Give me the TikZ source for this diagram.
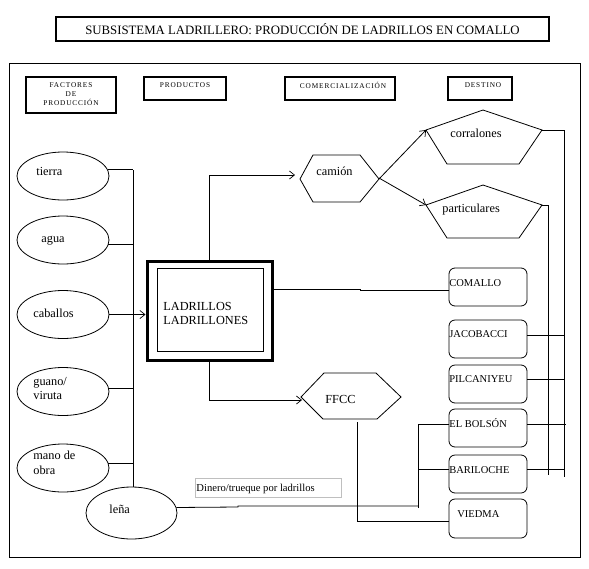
\documentclass[tikz,border=0pt]{standalone}
\usepackage{fontspec}
\setmainfont{Liberation Serif}
\newfontfamily\hdrfont[LetterSpace=12]{Liberation Serif}
\usetikzlibrary{shapes.geometric,arrows.meta}
\begin{document}
\begin{tikzpicture}[x=1pt,y=-1pt,line width=0.8pt,
  ell/.style={draw,ellipse,minimum width=92pt,minimum height=48pt,inner sep=0pt},
  lbl/.style={anchor=base west,inner sep=0pt,font=\fontsize{12.3}{14}\selectfont},
  hdr/.style={draw,line width=2pt,inner sep=0pt},
  hdrtxt/.style={inner sep=0pt,align=center,font=\hdrfont\fontsize{7.3}{9}\selectfont},
  dest/.style={draw,rounded corners=6pt,minimum width=78pt,minimum height=38pt,inner sep=0pt},
  dlbl/.style={anchor=base west,inner sep=0pt,font=\fontsize{10.5}{12}\selectfont},
  arr/.style={-{Straight Barb[length=5pt,width=8pt,line width=0.7pt]}}]
\useasboundingbox (0,0) rectangle (589,568);
\fill[white] (0,0) rectangle (589,568);

% title
\node[hdr,minimum width=493pt,minimum height=24pt,font=\fontsize{12.8}{14}\selectfont] (title) at (302.5,29) {SUBSISTEMA LADRILLERO: PRODUCCIÓN DE LADRILLOS EN COMALLO};

% frame
\draw[line width=1pt] (9,63) rectangle (580,557);

% headers
\node[hdr,minimum width=90pt,minimum height=36pt] (hfac) at (71,95) {};
\node[hdrtxt] (tfac) at (71,94) {FACTORES\\DE\\PRODUCCIÓN};
\node[hdr,minimum width=82pt,minimum height=23pt] (hpro) at (185,88.5) {};
\node[hdrtxt] (tpro) at (185,85) {PRODUCTOS};
\node[hdr,minimum width=110pt,minimum height=23pt] (hcom) at (340,88.5) {};
\node[hdrtxt] (tcom) at (343,85) {COMERCIALIZACIÓN};
\node[hdr,minimum width=64pt,minimum height=23pt] (hdes) at (480,88.5) {};
\node[hdrtxt] (tdes) at (483,85) {DESTINO};

% factors
\node[ell] (tierra) at (63,176) {};
\node[lbl] (ttierra) at (36,175) {tierra};
\node[ell] (agua) at (63,240) {};
\node[lbl] (tagua) at (41,242) {agua};
\node[ell] (cab) at (63,314.5) {};
\node[lbl] (tcab) at (33,317) {caballos};
\node[ell] (guano) at (63,391.5) {};
\node[lbl] (tguano) at (33,385) {guano/};
\node[lbl] (tviruta) at (33,399.5) {viruta};
\node[ell] (mano) at (63,468) {};
\node[lbl] (tmano) at (33,459) {mano de};
\node[lbl] (tobra) at (33,474) {obra};
\node[ell,minimum width=91pt,minimum height=52pt] (lena) at (131.5,513) {};
\node[lbl] (tlena) at (109,513) {leña};

% bus of factors
\coordinate (bt) at (133,170);
\coordinate (bb) at (133,487);
\draw (bt) -- (bb);
\draw (tierra.8) -- (tierra.8 -| bt);
\draw (agua.-6) -- (agua.-6 -| bt);
\draw (guano.4) -- (guano.4 -| bt);
\draw (mano.6) -- (mano.6 -| bt);

% products
\node[draw,line width=3pt,minimum width=125pt,minimum height=99pt,inner sep=0pt] (lad) at (209.5,310.5) {};
\node[draw,minimum width=106pt,minimum height=83pt,inner sep=0pt] (ladin) at (210,309.5) {};
\node[lbl] (tlad1) at (163,310) {LADRILLOS};
\node[lbl] (tlad2) at (163,324.5) {LADRILLONES};
\draw[arr] (cab.east) -- (cab.east -| lad.west);

% camion hexagon
\coordinate (camL) at (300,179);
\coordinate (camR) at (379,179);
\draw (camL) -- (313,155) -- (360,155) -- (camR) -- (360,202) -- (313,202) -- cycle;
\node[lbl] (tcam) at (316,175) {camión};
\coordinate (camin) at (295,175);
\draw[arr] (lad.north) |- (camin);

% FFCC hexagon
\coordinate (ffL) at (301,397);
\coordinate (ffR) at (401,397);
\draw (ffL) -- (324,373) -- (376,373) -- (ffR) -- (377,419) -- (323,419) -- cycle;
\node[lbl] (tff) at (325,403) {FFCC};
\coordinate (ffin) at (302,400);
\draw[arr] (lad.south) |- (ffin);

% pentagons
\coordinate (corL) at (426,130);
\coordinate (corR) at (542,130);
\draw (483,110) -- (corR) -- (519,164) -- (447,164) -- (corL) -- cycle;
\node[lbl] (tcor) at (450,137) {corralones};
\coordinate (parL) at (426,205);
\coordinate (parR) at (542,205);
\draw (483,185) -- (parR) -- (519,238) -- (447,238) -- (parL) -- cycle;
\node[lbl] (tpar) at (442,212) {particulares};
\draw[arr] (camR) -- (corL);
\draw[arr] ([yshift=1pt]camR) -- (parL);

% destinations
\node[dest] (com) at (488,287) {};
\node[dlbl] (tcomallo) at (449,286) {COMALLO};
\node[dest] (jac) at (488,339) {};
\node[dlbl] (tjac) at (449,337.5) {JACOBACCI};
\node[dest] (pil) at (488,384) {};
\node[dlbl] (tpil) at (449,382.5) {PILCANIYEU};
\node[dest] (elb) at (488,428) {};
\node[dlbl] (telb) at (449,427.5) {EL BOLSÓN};
\node[dest] (bar) at (488,474) {};
\node[dlbl] (tbar) at (449,473) {BARILOCHE};
\node[dest,minimum height=39pt] (vie) at (488,518.5) {};
\node[dlbl] (tvie) at (457,517) {VIEDMA};

% right buses
\coordinate (b1t) at (564,130);
\coordinate (b1b) at (564,477);
\coordinate (b2t) at (548,205);
\coordinate (b2b) at (548,475);
\draw (corR) -- (b1t) -- (b1b);
\draw (parR) -- (b2t) -- (b2b);
\draw (jac.east |- 0,335) -- (564,335);
\draw (pil.east |- 0,379) -- (564,379);
\draw (elb.east |- 0,424) -- (566,424);
\draw (bar.east |- 0,469) -- (564,469);

% comallo link
\draw (lad.east |- 0,289) -- (360,289) -- (360,290) -- (com.west |- 0,290);

% FFCC to VIEDMA
\coordinate (ffb) at (357,422);
\draw (ffb) |- (vie.west |- 0,521);

% lena to El Bolson / Bariloche
\coordinate (jx) at (418,506);
\draw (lena.7) -- (238,507) -- (238,506) -- (jx);
\draw (418,508) -- (418,424) -- (elb.west |- 0,424);
\draw (418,469) -- (bar.west |- 0,469);

% money label
\node[draw=black!25,line width=1pt,minimum width=146pt,minimum height=19pt,inner sep=0pt] (din) at (268,487.5) {};
\node[anchor=base west,inner sep=0pt,font=\fontsize{10.6}{12}\selectfont] (tdin) at (196,491) {Dinero/trueque por ladrillos};
\end{tikzpicture}
\end{document}
